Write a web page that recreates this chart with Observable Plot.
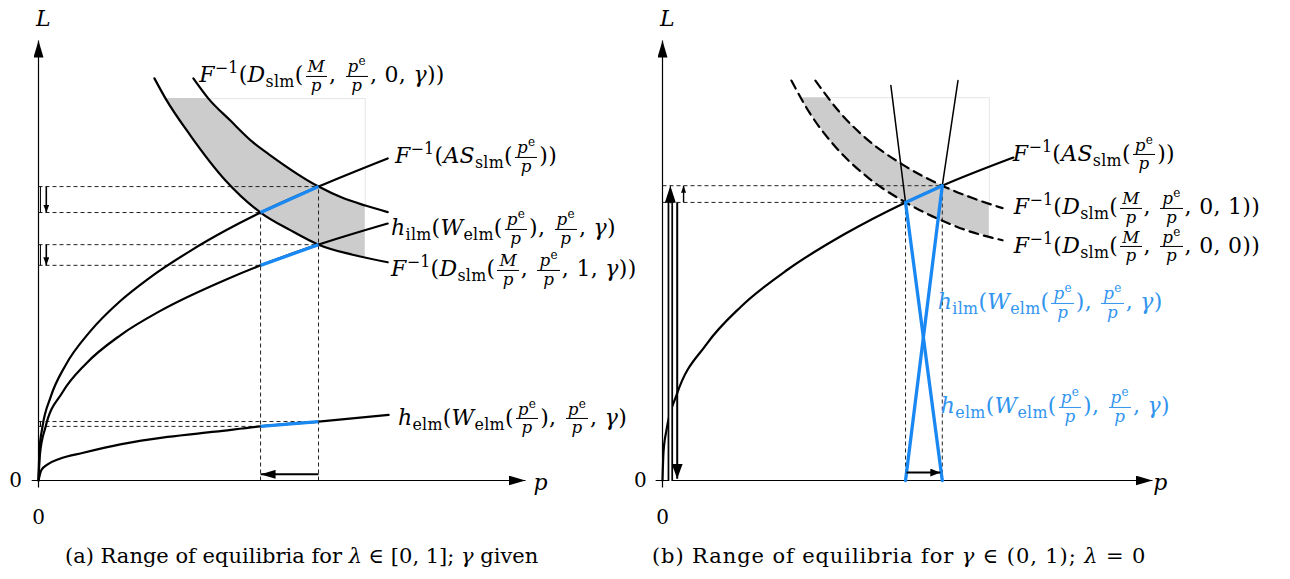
<!DOCTYPE html>
<html><head><meta charset="utf-8">
<script src="https://cdn.jsdelivr.net/npm/d3@7"></script>
<script src="https://cdn.jsdelivr.net/npm/@observablehq/plot@0.6"></script>
<style>
body{margin:0;background:#fff;}
#wrap{position:relative;width:1290px;height:579px;font-family:"DejaVu Serif",serif;overflow:hidden;}
#wrap svg{position:absolute;top:0;}
.lbl{position:absolute;white-space:nowrap;font-size:22px;line-height:1;transform:translateY(-50%);color:#000;letter-spacing:0.3px;}
.lbl.blue{color:#3194ef;}
.frac{display:inline-block;vertical-align:middle;text-align:center;font-size:0.76em;line-height:1.05;margin:0 2px;}
.frac>span{display:block;padding:0 2px;}
.frac>.num{border-bottom:1px solid currentColor;}
sup,sub{font-size:0.72em;line-height:0;}
sup{vertical-align:0.55em;} sub{vertical-align:-0.3em;}
.cap{position:absolute;top:546px;font-size:21px;line-height:1;white-space:nowrap;}
</style></head>
<body>
<div id="wrap"></div>
<script>
// ---------------- data: panel (a) ----------------
const asA    = [[0,0],[0.2,6.9],[0.8,12.1],[2.5,19],[5.5,26.1],[10.7,34.0],[16.8,40.8],[22.6,45.9],[31.2,52.2],[38.4,56.8],[45.6,60.9],[57.5,66.8],[71.7,73.2]];
const hIlmA  = [[0,0],[0.3,6],[1.4,12],[4.9,20],[9.7,26.5],[16.8,33],[25.1,38.6],[38.8,45.8],[45.6,48.9],[57.5,53.6],[71.7,58.4]];
const hElmA  = [[0,0],[0.6,2.4],[1.8,3.6],[4.5,5],[9.2,6.3],[16.8,8.2],[26.5,9.9],[36.3,11.1],[45.6,12.3],[57.5,13.4],[71.9,14.9]];
const dLam0A = [[31.8,91.4],[34.9,86.8],[39.4,81.8],[44,76.9],[47.6,73.9],[57.5,66.8],[62.3,64.3],[67.1,62.5],[71.7,61.0]];
const dLam1A = [[23.8,91.4],[26.1,86.8],[31.2,78.4],[38.4,68.2],[45.6,60.9],[51.7,56.9],[57.5,53.6],[64.5,51.3],[71.7,49.6]];
const bandLowA = [[26.1,86.8],[31.2,78.4],[38.4,68.2],[45.6,60.9],[51.7,56.9],[57.5,53.6],[67.1,50.7]];
const bandUpA  = [[34.9,86.8],[39.4,81.8],[44,76.9],[47.6,73.9],[57.5,66.8],[62.3,64.3],[67.1,62.5]];
const priceA = [45.6, 57.5];
const asEqA  = [60.9, 66.8];
const ilmEqA = [48.9, 53.6];
const elmEqA = [12.3, 13.4];

// ---------------- data: panel (b) ----------------
const asB    = [[0,0],[0.2,6.4],[0.8,11.4],[2.9,19.5],[9,31.0],[16,39.5],[25.5,47.9],[37,55.9],[49.6,63.2],[57.1,67.0],[71.6,73.4]];
const dGam1B = [[31.2,90.9],[36,83.9],[42,77.3],[49,71.8],[57.1,67.0],[63,64.3],[69.4,61.9]];
const dGam0B = [[26.3,90.9],[30,83.6],[35,76.2],[42,68.8],[49.6,63.2],[57,59.1],[63,56.5],[69.4,54.6]];
const bandLowB = [[28.1,87],[35,76.2],[42,68.8],[49.6,63.2],[57,59.1],[66.7,55.4]];
const bandUpB  = [[33.7,87],[38,81.5],[44,75.6],[50,71.1],[57.1,67.0],[66.7,62.9]];
const hIlmB = [[46.6,89.8],[49.6,63.2],[57.1,0]];
const hElmB = [[60.3,90.9],[57.1,67.0],[49.6,0]];
const priceB = [49.6, 57.1];
const asEqB  = [63.2, 67.0];

// ---------------- text ----------------
const I = s => `<i>${s}</i>`;
const frac = (n, d) => `<span class="frac"><span class="num">${n}</span><span class="den">${d}</span></span>`;
const pe = `${I("p")}<sup>e</sup>`;
const dLabel = (a, b) => `${I("F")}<sup>−1</sup>(${I("D")}<sub>slm</sub>(${frac(I("M"), I("p"))}, ${frac(pe, I("p"))}, ${a}, ${b}))`;
const asLabel = `${I("F")}<sup>−1</sup>(${I("AS")}<sub>slm</sub>(${frac(pe, I("p"))}))`;
const hLabel = k => `${I("h")}<sub>${k}</sub>(${I("W")}<sub>elm</sub>(${frac(pe, I("p"))}), ${frac(pe, I("p"))}, ${I("γ")})`;

const labelsA = [
  {p: 33.1, L: 91.8, html: dLabel("0", I("γ"))},
  {p: 73.3, L: 73.4, html: asLabel},
  {p: 72.5, L: 57.0, html: hLabel("ilm")},
  {p: 72.5, L: 47.7, html: dLabel("1", I("γ"))},
  {p: 73.9, L: 13.9, html: hLabel("elm")}
];
const labelsB = [
  {p: 71.6, L: 73.9, html: asLabel},
  {p: 71.8, L: 61.8, html: dLabel("0", "1")},
  {p: 71.8, L: 53.0, html: dLabel("0", "0")},
  {p: 56.3, L: 40.2, html: hLabel("ilm"), blue: true},
  {p: 56.9, L: 16.6, html: hLabel("elm"), blue: true}
];
const axisItalicA = [{p: 1, L: 105, t: "L"}, {p: 103.1, L: -0.5, t: "p"}];
const axisZeroA   = [{p: -4.7, L: 0, t: "0"}, {p: 0, L: -8.4, t: "0"}];
const axisItalicB = [{p: 1, L: 105, t: "L"}, {p: 101.6, L: -0.5, t: "p"}];
const axisZeroB   = [{p: -4.5, L: 0, t: "0"}, {p: 0, L: -8.4, t: "0"}];
const captionA = "(a) Range of equilibria for <i>λ</i> ∈ [0, 1]; <i>γ</i> given";
const captionB = "(b) Range of equilibria for <i>γ</i> ∈ (0, 1); <i>λ</i> = 0";

// ---------------- helpers ----------------
const NS = "http://www.w3.org/2000/svg";
const BLUE = "#1a88f2";
const FONT = "DejaVu Serif";
function head(len, wid, fill) {
  return (color, context) => {
    const doc = (context && context.document) || document;
    const m = doc.createElementNS(NS, "marker");
    m.setAttribute("viewBox", `0 ${-wid/2} ${len} ${wid}`);
    m.setAttribute("markerWidth", len);
    m.setAttribute("markerHeight", wid);
    m.setAttribute("markerUnits", "userSpaceOnUse");
    m.setAttribute("refX", len);
    m.setAttribute("refY", 0);
    m.setAttribute("orient", "auto");
    const path = doc.createElementNS(NS, "path");
    path.setAttribute("d", `M0,${-wid/2}L${len},0L0,${wid/2}Z`);
    path.setAttribute("fill", fill || color);
    path.setAttribute("stroke", "none");
    m.appendChild(path);
    return m;
  };
}
const zip = (a, b) => a.map((d, i) => ({x1: d[0], y1: d[1], x2: b[i][0], y2: b[i][1]}));
const X = d => d[0], Y = d => d[1];
const curveLine = (data, opts = {}) => Plot.line(data, {x: X, y: Y, curve: "monotone-x", stroke: "black", strokeWidth: 2.2, ...opts});
const axes = (x0) => [
  Plot.link([0], {x1: x0, y1: 0, x2: 100, y2: 0, stroke: "black", strokeWidth: 1.2, markerEnd: head(17, 10)}),
  Plot.link([0], {x1: 0, y1: -1.6, x2: 0, y2: 100, stroke: "black", strokeWidth: 1.2, markerEnd: head(17, 10)})
];
const textMarks = (ital, zero) => [
  Plot.text(ital, {x: "p", y: "L", text: "t", fontFamily: FONT, fontStyle: "italic", fontSize: 22}),
  Plot.text(zero, {x: "p", y: "L", text: "t", fontFamily: FONT, fontSize: 20})
];
const base = (ml, mr) => ({width: 645, height: 535, marginLeft: ml, marginRight: mr, marginTop: 40, marginBottom: 55,
  x: {domain: [0, 100], axis: null}, y: {domain: [0, 100], axis: null}, style: {background: "transparent", overflow: "visible"}});

// ---------------- panel (a) ----------------
const guidesA = [asEqA, ilmEqA, elmEqA].flatMap(Ls => priceA.map((p, i) => ({p, L: Ls[i]})));
const segA = [asEqA, ilmEqA, elmEqA].map(Ls => ({x1: priceA[0], y1: Ls[0], x2: priceA[1], y2: Ls[1]}));
const shiftA = [asEqA, ilmEqA].map(Ls => ({hi: Ls[1], lo: Ls[0]}));
const chartA = Plot.plot({...base(38, 120), marks: [
  Plot.area(zip(bandLowA, bandUpA), {x1: "x1", y1: "y1", x2: "x2", y2: "y2", fill: "#cccccc", curve: "catmull-rom"}),
  Plot.line([bandUpA[0], [bandUpA[bandUpA.length-1][0], bandUpA[0][1]], bandUpA[bandUpA.length-1]], {x: X, y: Y, stroke: "#e6e6e6", strokeWidth: 1}),
  Plot.link(guidesA, {x1: 0, y1: "L", x2: "p", y2: "L", stroke: "#222", strokeWidth: 1, strokeDasharray: "4,3"}),
  Plot.link(priceA.map((p, i) => ({p, L: asEqA[i]})), {x1: "p", y1: 0, x2: "p", y2: "L", stroke: "#222", strokeWidth: 1, strokeDasharray: "4,3"}),
  ...axes(-1.4),
  curveLine(dLam0A), curveLine(dLam1A), curveLine(asA), curveLine(hIlmA), curveLine(hElmA),
  Plot.link(segA, {x1: "x1", y1: "y1", x2: "x2", y2: "y2", stroke: BLUE, strokeWidth: 3.3}),
  Plot.link([asEqA, ilmEqA, elmEqA], {x1: 0.4, x2: 0.4, y1: d => d[0], y2: d => d[1], stroke: "black", strokeWidth: 1}),
  Plot.link(shiftA, {x1: 1.6, x2: 1.6, y1: "hi", y2: "lo", stroke: "black", strokeWidth: 1.6, markerEnd: head(8, 6)}),
  Plot.link([0], {x1: priceA[1], x2: priceA[0], y1: 1.4, y2: 1.4, stroke: "black", strokeWidth: 2, markerEnd: head(15, 9)}),
  ...textMarks(axisItalicA, axisZeroA)
]});

// ---------------- panel (b) ----------------
const guidesB = priceB.map((p, i) => ({p, L: asEqB[i]}));
const chartB = Plot.plot({...base(17, 138), marks: [
  Plot.area(zip(bandLowB, bandUpB), {x1: "x1", y1: "y1", x2: "x2", y2: "y2", fill: "#cccccc", curve: "catmull-rom"}),
  Plot.line([bandUpB[0], [bandUpB[bandUpB.length-1][0], bandUpB[0][1]], bandUpB[bandUpB.length-1]], {x: X, y: Y, stroke: "#e6e6e6", strokeWidth: 1}),
  Plot.link(guidesB, {x1: 0, y1: "L", x2: "p", y2: "L", stroke: "#222", strokeWidth: 1, strokeDasharray: "4,3"}),
  Plot.link(guidesB, {x1: "p", y1: 0, x2: "p", y2: "L", stroke: "#222", strokeWidth: 1, strokeDasharray: "4,3"}),
  ...axes(-1.4),
  curveLine(dGam1B, {strokeDasharray: "9,6"}), curveLine(dGam0B, {strokeDasharray: "9,6"}),
  curveLine(asB),
  Plot.line(hIlmB.slice(0, 2), {x: X, y: Y, stroke: "black", strokeWidth: 1.5}),
  Plot.line(hElmB.slice(0, 2), {x: X, y: Y, stroke: "black", strokeWidth: 1.5}),
  Plot.line(hIlmB.slice(1), {x: X, y: Y, stroke: BLUE, strokeWidth: 3.3}),
  Plot.line(hElmB.slice(1), {x: X, y: Y, stroke: BLUE, strokeWidth: 3.3}),
  Plot.link([0], {x1: priceB[0], y1: asEqB[0], x2: priceB[1], y2: asEqB[1], stroke: BLUE, strokeWidth: 3.3}),
  // double up-arrow, down-arrow, small up-arrow
  Plot.link([asEqB], {x1: 1.6, x2: 1.6, y1: 0, y2: d => d[1] - 3.6, stroke: "black", strokeWidth: 5.5}),
  Plot.link([asEqB], {x1: 1.6, x2: 1.6, y1: -0.1, y2: d => d[1] - 3.6, stroke: "white", strokeWidth: 2}),
  Plot.link([asEqB], {x1: 1.6, x2: 1.6, y1: d => d[1] - 4, y2: d => d[1], stroke: "black", strokeWidth: 1, markerEnd: head(17, 11)}),
  Plot.link([asEqB], {x1: 3.0, x2: 3.0, y1: d => d[0], y2: 0.4, stroke: "black", strokeWidth: 2, markerEnd: head(15, 11)}),
  Plot.link([asEqB], {x1: 4.3, x2: 4.3, y1: d => d[0], y2: d => d[1], stroke: "black", strokeWidth: 1.4, markerEnd: head(7, 5)}),
  Plot.link([0], {x1: priceB[0] + 0.2, x2: priceB[1] - 0.4, y1: 1.8, y2: 1.8, stroke: "black", strokeWidth: 2, markerEnd: head(10, 8)}),
  ...textMarks(axisItalicB, axisZeroB)
]});

// ---------------- assemble ----------------
const wrap = document.getElementById("wrap");
chartA.style.left = "0px"; chartB.style.left = "645px";
wrap.append(chartA, chartB);
function place(chart, left, labels) {
  const x = chart.scale("x"), y = chart.scale("y");
  for (const l of labels) {
    const div = document.createElement("div");
    div.className = "lbl" + (l.blue ? " blue" : "");
    div.innerHTML = l.html;
    div.style.left = (left + x.apply(l.p)) + "px";
    div.style.top = y.apply(l.L) + "px";
    wrap.append(div);
  }
}
place(chartA, 0, labelsA);
place(chartB, 645, labelsB);
for (const [html, left, spacing] of [[captionA, 65, 0], [captionB, 652, 0.9]]) {
  const c = document.createElement("div");
  c.className = "cap"; c.innerHTML = html; c.style.left = left + "px";
  c.style.letterSpacing = spacing + "px";
  wrap.append(c);
}
</script>
</body></html>
